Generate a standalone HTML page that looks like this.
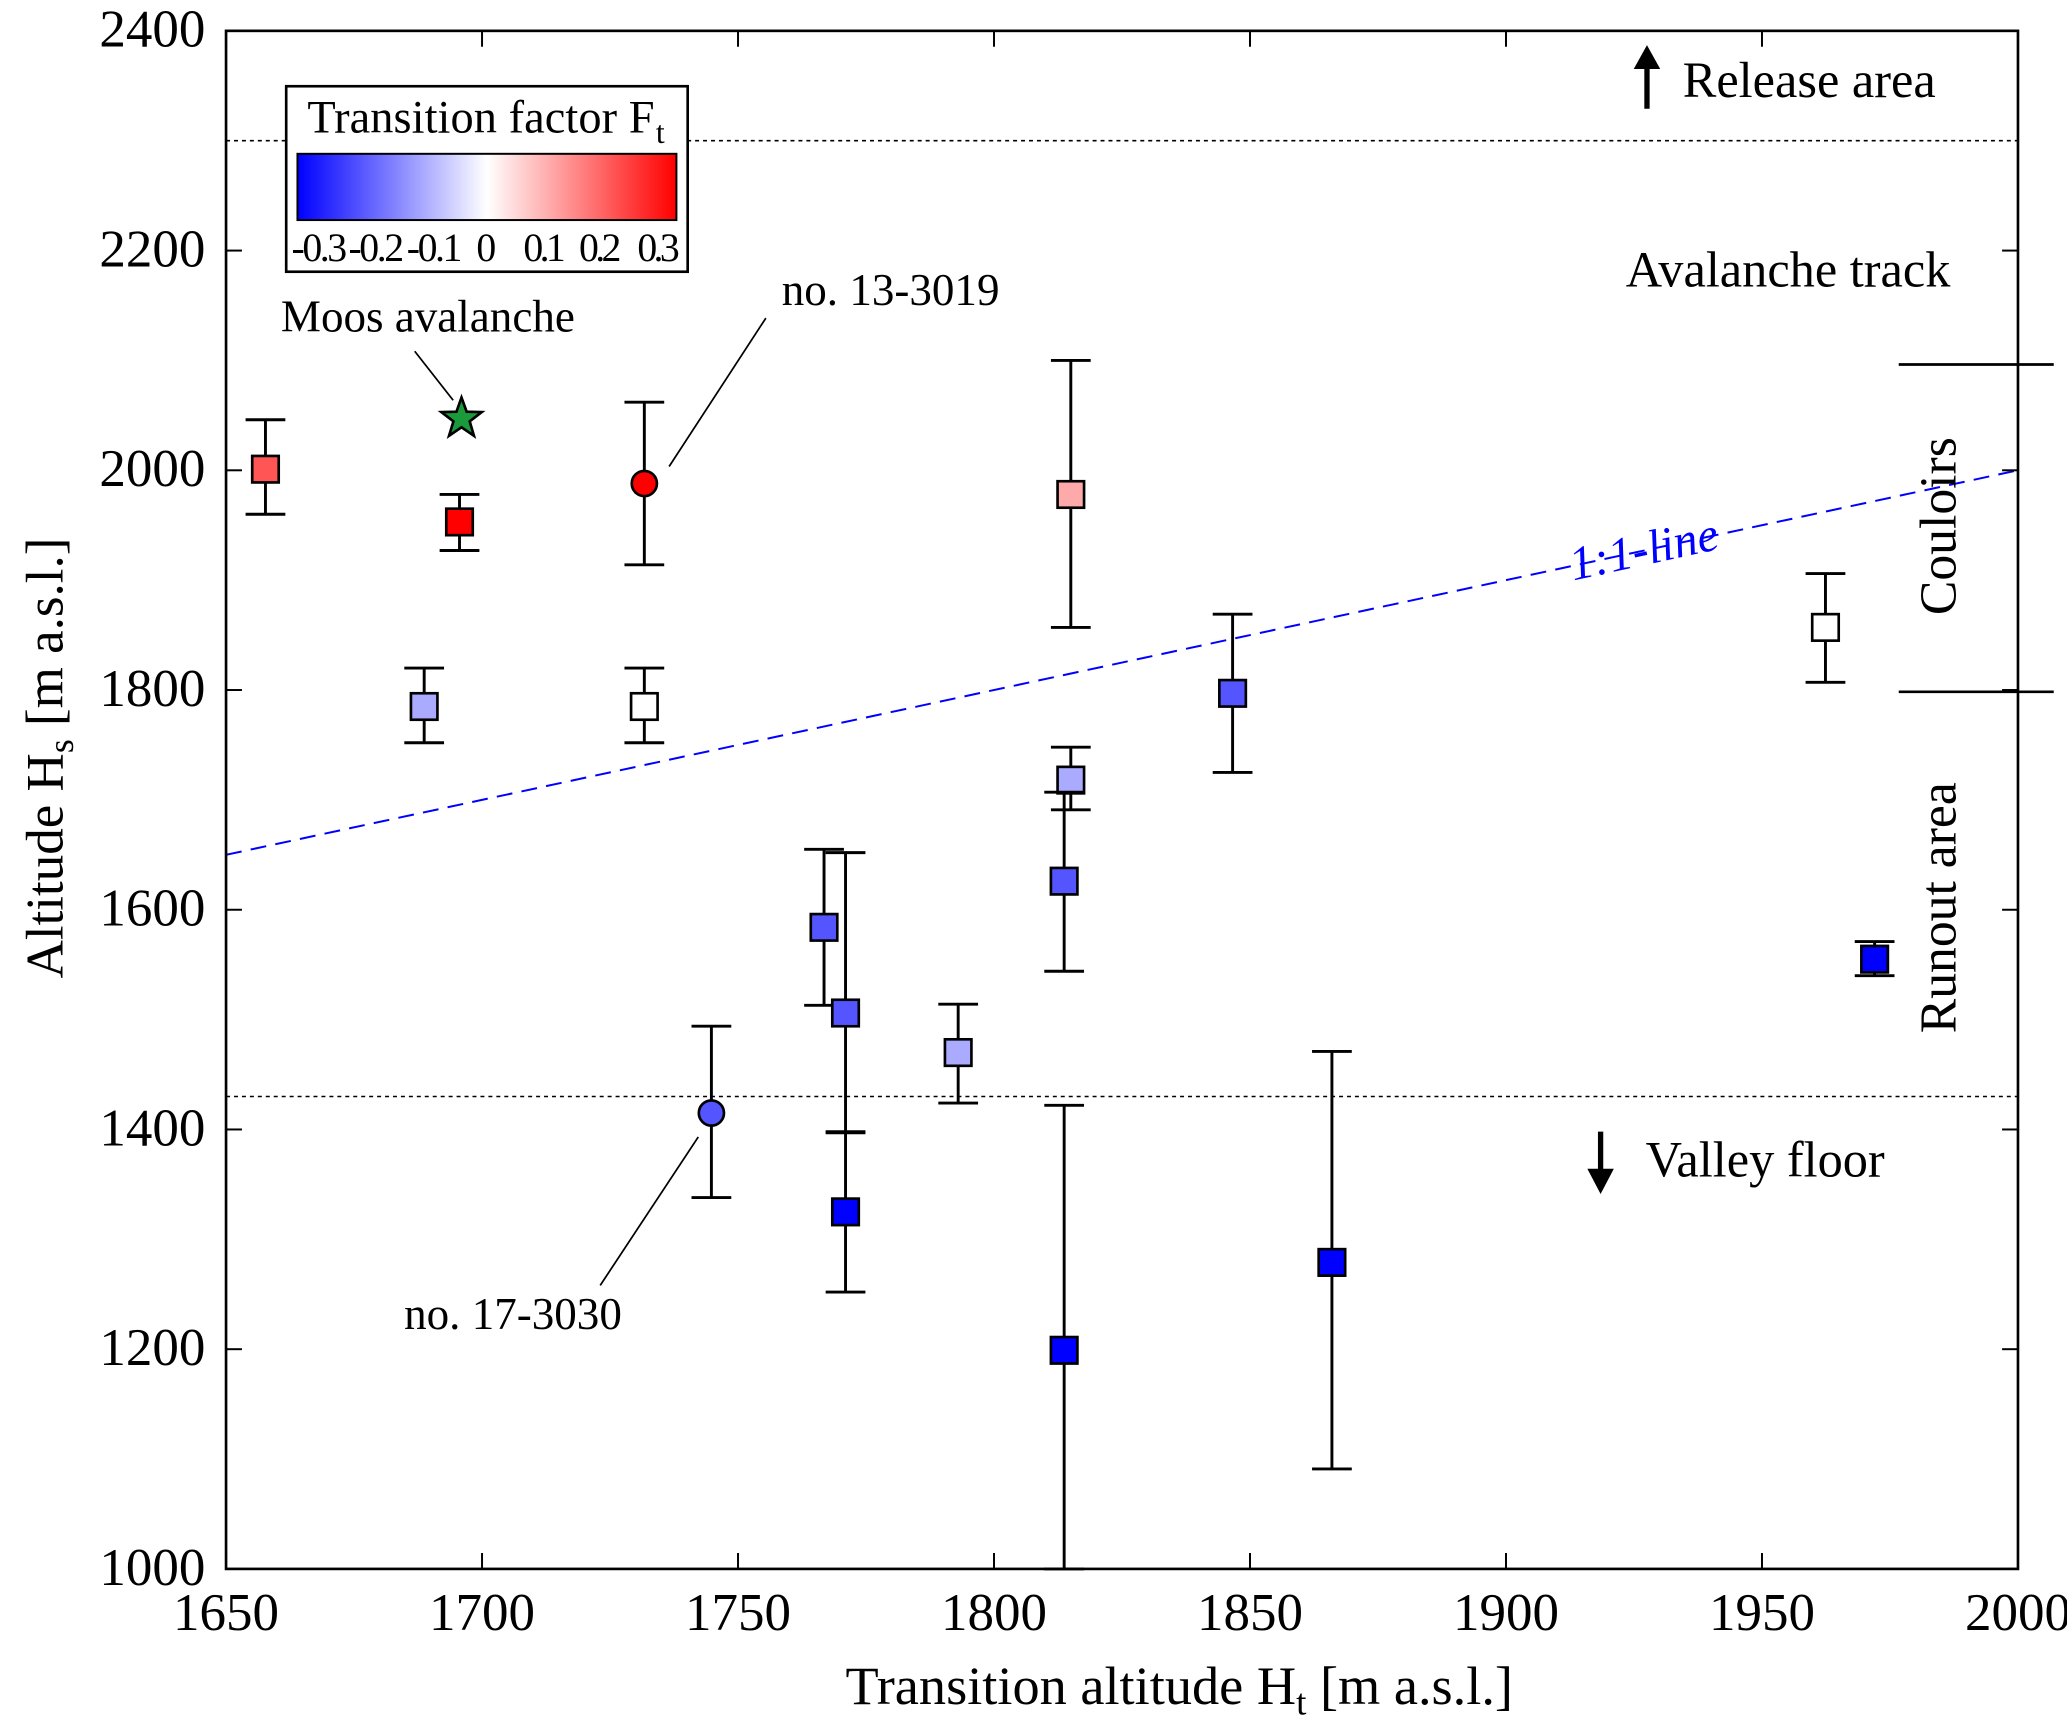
<!DOCTYPE html>
<html><head><meta charset="utf-8"><style>html,body{margin:0;padding:0;background:#fff}svg{display:block}text{font-family:"Liberation Serif",serif;fill:#000}</style></head>
<body>
<svg id="chart" width="2067" height="1732" viewBox="0 0 1560 1307" xmlns="http://www.w3.org/2000/svg">
<defs>
<linearGradient id="cbar" x1="0" x2="1" y1="0" y2="0">
<stop offset="0" stop-color="#0000ff"/><stop offset="0.5" stop-color="#ffffff"/><stop offset="1" stop-color="#ff0000"/>
</linearGradient>
</defs>
<g id="plot"></g>
</svg>
<script>
const xTicks = [1650,1700,1750,1800,1850,1900,1950,2000];
const yTicks = [1000,1200,1400,1600,1800,2000,2200,2400];
const ptX  = [1657.7,1695.6,1731.7,1688.7,1731.7,1815,1962.4,1846.6,1815,1813.7,1766.8,1771,1793,1744.8,1771,1813.7,1866,1972];
const ptY  = [2001,1953,1988,1785,1785,1978,1857,1797,1718,1626,1584,1506,1470,1415,1325,1199,1279,1555];
const errHi= [2046,1978,2062,1820,1820,2100,1906,1869,1748,1707,1655,1652,1514,1494,1397,1422,1471,1571];
const errLo= [1960,1927,1914,1752,1752,1857,1807,1725,1691,1544,1513,1398,1424,1338,1252,1000,1091,1540];
const ptFt = [0.2,0.3,0.3,-0.1,0,0.1,0,-0.2,-0.1,-0.2,-0.2,-0.2,-0.1,-0.2,-0.3,-0.3,-0.3,-0.3];
const ptShape = ['s','s','c','s','s','s','s','s','s','s','s','s','s','c','s','s','s','s'];
const mooseX = [1696], mooseY = [2047];

const X0=170.6,X1=1523,Y0=1184,Y1=23.2;
const xs=v=>X0+(v-1650)/(2000-1650)*(X1-X0);
const ys=v=>Y0-(v-1000)/(2400-1000)*(Y0-Y1);
const NS='http://www.w3.org/2000/svg';
const g=document.getElementById('plot');
function mk(tag,attrs,parent){const e=document.createElementNS(NS,tag);for(const k in attrs)e.setAttribute(k,attrs[k]);(parent||g).appendChild(e);return e;}
function col(f){const t=Math.min(1,Math.abs(f)/0.3);const c=Math.round(255*(1-t));return f<0?`rgb(${c},${c},255)`:`rgb(255,${c},${c})`;}

let e;
e=mk('line',{x1:X0,x2:X1,y1:ys(2300),y2:ys(2300),stroke:'#000','stroke-width':1.2,'stroke-dasharray':'3,3'});


e=mk('line',{x1:X0,x2:X1,y1:ys(1430),y2:ys(1430),stroke:'#000','stroke-width':1.2,'stroke-dasharray':'3,3'});


e=mk('line',{x1:xs(1650),y1:ys(1650),x2:xs(2000),y2:ys(2000),stroke:'#0000ff','stroke-width':1.5,'stroke-dasharray':'12,7'});



e=mk('rect',{x:X0,y:Y1,width:X1-X0,height:Y0-Y1,fill:'none',stroke:'#000','stroke-width':2});


xTicks.forEach(v=>{
  mk('line',{x1:xs(v),x2:xs(v),y1:Y0,y2:Y0-12,stroke:'#000','stroke-width':1.5});
  mk('line',{x1:xs(v),x2:xs(v),y1:Y1,y2:Y1+12,stroke:'#000','stroke-width':1.5});
  const t=mk('text',{x:xs(v),y:1230,'font-size':40,'text-anchor':'middle'});t.textContent=v;
  
  
});
yTicks.forEach(v=>{
  mk('line',{x1:X0,x2:X0+12,y1:ys(v),y2:ys(v),stroke:'#000','stroke-width':1.5});
  mk('line',{x1:X1,x2:X1-12,y1:ys(v),y2:ys(v),stroke:'#000','stroke-width':1.5});
  const t=mk('text',{x:155,y:ys(v)+12,'font-size':40,'text-anchor':'end'});t.textContent=v;
  
  
});

ptX.forEach((vx,i)=>{
  const cx=xs(vx),cy=ys(ptY[i]),hi=ys(errHi[i]),lo=ys(errLo[i]);
  const eb=mk('path',{d:`M${cx},${hi}V${lo}M${cx-15},${hi}H${cx+15}M${cx-15},${lo}H${cx+15}`,stroke:'#000','stroke-width':2.2,fill:'none'});
  
  
  let m;
  if(ptShape[i]==='c') m=mk('circle',{cx:cx,cy:cy,r:9.5,fill:col(ptFt[i]),stroke:'#000','stroke-width':2});
  else m=mk('rect',{x:cx-10,y:cy-10,width:20,height:20,fill:col(ptFt[i]),stroke:'#000','stroke-width':2});
  
  
});
mooseX.forEach((vx,i)=>{
  const cx=xs(vx),cy=ys(mooseY[i]);let p=[];
  for(let k=0;k<10;k++){const r=k%2?6.5:16,a=-Math.PI/2+k*Math.PI/5;p.push((cx+r*Math.cos(a)).toFixed(1)+','+(cy+r*Math.sin(a)).toFixed(1));}
  const s=mk('polygon',{points:p.join(' '),fill:'#1a9a3a',stroke:'#000','stroke-width':2});
  
  
});
</script>
<svg style="position:absolute;left:0;top:0" width="2067" height="1732" viewBox="0 0 1560 1307" xmlns="http://www.w3.org/2000/svg">
<text x="890" y="1286" font-size="41" text-anchor="middle" style="font-family:'Liberation Serif',serif">Transition altitude H<tspan font-size="28" dy="8">t</tspan><tspan dy="-8"> [m a.s.l.]</tspan></text>
<text transform="translate(47,572) rotate(-90)" font-size="40" text-anchor="middle" style="font-family:'Liberation Serif',serif">Altitude H<tspan font-size="27" dy="8">s</tspan><tspan dy="-8"> [m a.s.l.]</tspan></text>
<g>
<rect x="216" y="65" width="303" height="140" fill="#fff" stroke="#000" stroke-width="2"/>
<text x="232" y="100" font-size="35" textLength="262" style="font-family:'Liberation Serif',serif">Transition factor F</text>
<text x="495" y="108" font-size="24" style="font-family:'Liberation Serif',serif">t</text>
<rect x="224.5" y="116" width="286" height="50" fill="url(#cbar)" stroke="#000" stroke-width="1.5"/>
<g font-size="30" text-anchor="middle" style="font-family:'Liberation Serif',serif">
<text x="241" y="197" textLength="42">-0.3</text>
<text x="284" y="197" textLength="42">-0.2</text>
<text x="328" y="197" textLength="42">-0.1</text>
<text x="367" y="197">0</text>
<text x="411" y="197" textLength="32">0.1</text>
<text x="453" y="197" textLength="32">0.2</text>
<text x="497" y="197" textLength="32">0.3</text>
</g>
</g>
<path d="M1243,82V46" stroke="#000" stroke-width="4"/><path d="M1233,52L1243,34L1253,52Z" fill="#000"/>
<text x="1270" y="73" font-size="38" style="font-family:'Liberation Serif',serif">Release area</text>
<text x="1472" y="216" font-size="38" text-anchor="end" style="font-family:'Liberation Serif',serif">Avalanche track</text>
<path d="M1208,854V888" stroke="#000" stroke-width="4"/><path d="M1198,882L1208,901L1218,882Z" fill="#000"/>
<text x="1242" y="888" font-size="38" style="font-family:'Liberation Serif',serif">Valley floor</text>
<path d="M1433,275H1550M1433,522H1550" stroke="#000" stroke-width="2"/>
<text transform="translate(1476,397) rotate(-90)" font-size="39" text-anchor="middle" style="font-family:'Liberation Serif',serif">Couloirs</text>
<text transform="translate(1476,685) rotate(-90)" font-size="39" text-anchor="middle" style="font-family:'Liberation Serif',serif">Runout area</text>
<text transform="translate(1243,426) rotate(-12.2)" font-size="36" font-style="italic" text-anchor="middle" style="font-family:'Liberation Serif',serif;fill:#0000ff">1:1-line</text>
<text x="212" y="250" font-size="34" style="font-family:'Liberation Serif',serif">Moos avalanche</text>
<path d="M313,265L342,302" stroke="#000" stroke-width="1.3"/>
<text x="590" y="230" font-size="34" style="font-family:'Liberation Serif',serif">no. 13-3019</text>
<path d="M578,240L505,352" stroke="#000" stroke-width="1.3"/>
<text x="305" y="1003" font-size="34" style="font-family:'Liberation Serif',serif">no. 17-3030</text>
<path d="M453,970L527,858" stroke="#000" stroke-width="1.3"/>
</svg>
</body></html>
